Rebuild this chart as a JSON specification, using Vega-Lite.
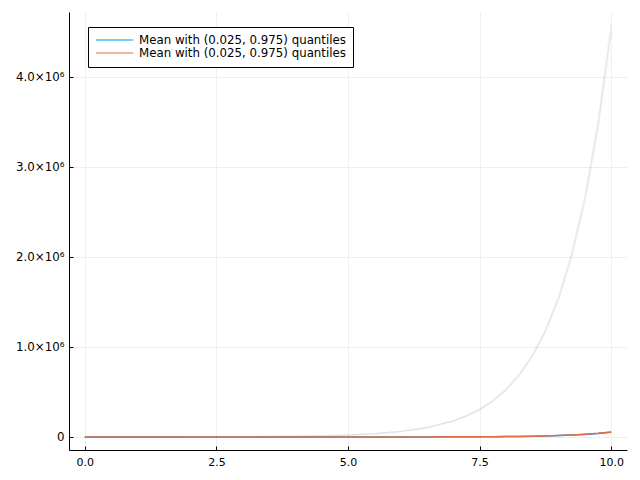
{
  "$schema": "https://vega.github.io/schema/vega-lite/v6.json",
  "width": 558,
  "height": 438,
  "autosize": "none",
  "padding": {"left": 69, "top": 12, "right": 13, "bottom": 30},
  "background": "white",
  "config": {
    "view": {"stroke": null},
    "font": "DejaVu Sans",
    "axis": {
      "domainColor": "black",
      "domainWidth": 1,
      "tickColor": "black",
      "tickSize": -4,
      "labelFontSize": 11,
      "labelColor": "black",
      "labelFont": "DejaVu Sans",
      "gridColor": "#efefef",
      "gridWidth": 1,
      "title": null
    }
  },
  "resolve": {"legend": {"color": "independent"}},
  "data": {
    "values": [
      {"x": 0.0, "s": "a", "mean": 1, "upper": 94},
      {"x": 0.5, "s": "a", "mean": 1.2, "upper": 160},
      {"x": 1.0, "s": "a", "mean": 1.5, "upper": 275},
      {"x": 1.5, "s": "a", "mean": 2, "upper": 472},
      {"x": 2.0, "s": "a", "mean": 3, "upper": 810},
      {"x": 2.5, "s": "a", "mean": 5, "upper": 1390},
      {"x": 3.0, "s": "a", "mean": 9, "upper": 2390},
      {"x": 3.5, "s": "a", "mean": 16, "upper": 4090},
      {"x": 4.0, "s": "a", "mean": 30, "upper": 7030},
      {"x": 4.5, "s": "a", "mean": 55, "upper": 12050},
      {"x": 5.0, "s": "a", "mean": 100, "upper": 20700},
      {"x": 5.5, "s": "a", "mean": 190, "upper": 35500},
      {"x": 6.0, "s": "a", "mean": 360, "upper": 60900},
      {"x": 6.5, "s": "a", "mean": 670, "upper": 104500},
      {"x": 7.0, "s": "a", "mean": 1250, "upper": 179400},
      {"x": 7.25, "s": "a", "mean": 1700, "upper": 235000},
      {"x": 7.5, "s": "a", "mean": 2300, "upper": 307800},
      {"x": 7.75, "s": "a", "mean": 3200, "upper": 403000},
      {"x": 8.0, "s": "a", "mean": 4300, "upper": 528100},
      {"x": 8.25, "s": "a", "mean": 5900, "upper": 692000},
      {"x": 8.5, "s": "a", "mean": 8000, "upper": 906400},
      {"x": 8.75, "s": "a", "mean": 11000, "upper": 1187000},
      {"x": 9.0, "s": "a", "mean": 15000, "upper": 1555000},
      {"x": 9.25, "s": "a", "mean": 20500, "upper": 2038000},
      {"x": 9.5, "s": "a", "mean": 28000, "upper": 2669000},
      {"x": 9.75, "s": "a", "mean": 38000, "upper": 3496000},
      {"x": 10.0, "s": "a", "mean": 52000, "upper": 4580000},
      {"x": 0.0, "s": "b", "mean": 1, "upper": 92},
      {"x": 0.5, "s": "b", "mean": 1.2, "upper": 157},
      {"x": 1.0, "s": "b", "mean": 1.5, "upper": 270},
      {"x": 1.5, "s": "b", "mean": 2, "upper": 463},
      {"x": 2.0, "s": "b", "mean": 3, "upper": 794},
      {"x": 2.5, "s": "b", "mean": 5, "upper": 1362},
      {"x": 3.0, "s": "b", "mean": 9, "upper": 2342},
      {"x": 3.5, "s": "b", "mean": 17, "upper": 4008},
      {"x": 4.0, "s": "b", "mean": 31, "upper": 6890},
      {"x": 4.5, "s": "b", "mean": 57, "upper": 11810},
      {"x": 5.0, "s": "b", "mean": 105, "upper": 20290},
      {"x": 5.5, "s": "b", "mean": 200, "upper": 34790},
      {"x": 6.0, "s": "b", "mean": 380, "upper": 59680},
      {"x": 6.5, "s": "b", "mean": 700, "upper": 102400},
      {"x": 7.0, "s": "b", "mean": 1300, "upper": 175800},
      {"x": 7.25, "s": "b", "mean": 1780, "upper": 230300},
      {"x": 7.5, "s": "b", "mean": 2400, "upper": 301600},
      {"x": 7.75, "s": "b", "mean": 3350, "upper": 394900},
      {"x": 8.0, "s": "b", "mean": 4500, "upper": 517500},
      {"x": 8.25, "s": "b", "mean": 6200, "upper": 678200},
      {"x": 8.5, "s": "b", "mean": 8400, "upper": 888300},
      {"x": 8.75, "s": "b", "mean": 11500, "upper": 1163000},
      {"x": 9.0, "s": "b", "mean": 15700, "upper": 1524000},
      {"x": 9.25, "s": "b", "mean": 21500, "upper": 1997000},
      {"x": 9.5, "s": "b", "mean": 29400, "upper": 2616000},
      {"x": 9.75, "s": "b", "mean": 40000, "upper": 3426000},
      {"x": 10.0, "s": "b", "mean": 55000, "upper": 4488000}
    ]
  },
  "encoding": {
    "x": {
      "field": "x",
      "type": "quantitative",
      "scale": {"domain": [-0.3, 10.3], "nice": false, "zero": false},
      "axis": {"values": [0, 2.5, 5, 7.5, 10], "format": ".1f", "labelPadding": 10}
    }
  },
  "layer": [
    {
      "mark": {"type": "line", "strokeWidth": 1.5, "opacity": 0.12, "clip": true},
      "encoding": {
        "y": {
          "field": "upper",
          "type": "quantitative",
          "scale": {"domain": [-145000, 4720000], "nice": false, "zero": false},
          "axis": {
            "values": [0, 1000000, 2000000, 3000000, 4000000],
            "labelExpr": "datum.value == 0 ? '0' : format(datum.value / 1000000, '.1f') + '×10⁶'",
            "labelPadding": 9,
            "labelFontSize": 11.8
          }
        },
        "color": {"field": "s", "type": "nominal", "scale": {"domain": ["a", "b"], "range": ["#009AFA", "#E36F47"]}, "legend": null},
        "detail": {"field": "s"}
      }
    },
    {
      "mark": {"type": "line", "strokeWidth": 1.5, "clip": true},
      "encoding": {
        "y": {"field": "mean", "type": "quantitative"},
        "color": {
          "field": "s",
          "type": "nominal",
          "scale": {"domain": ["a", "b"], "range": ["#009AFA", "#E36F47"]},
          "legend": {
            "orient": "none",
            "legendX": 19,
            "legendY": 15,
            "title": null,
            "labelExpr": "'Mean with (0.025, 0.975) quantiles'",
            "labelFontSize": 11.8,
            "labelFont": "DejaVu Sans",
            "labelColor": "black",
            "labelLimit": 500,
            "symbolType": "stroke",
            "symbolSize": 1400,
            "symbolStrokeWidth": 1.2,
            "clipHeight": 12,
            "strokeColor": "black",
            "fillColor": "white",
            "padding": 7,
            "rowPadding": 0,
            "labelOffset": 5
          }
        }
      }
    }
  ]
}
